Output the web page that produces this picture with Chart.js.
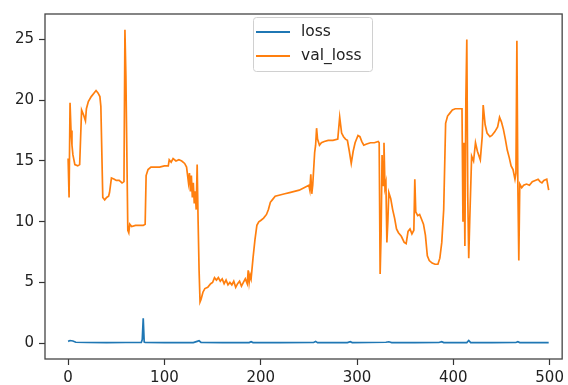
<!DOCTYPE html>
<html><head><meta charset="utf-8">
<script src="https://cdn.jsdelivr.net/npm/chart.js@4.4.0/dist/chart.umd.min.js"></script>
<style>html,body{margin:0;padding:0;background:#fff;}canvas{display:block;}</style>
</head><body>
<canvas id="c" width="568" height="385" style="width:568px;height:385px"></canvas>
<script>
const seriesNames = ['loss', 'val_loss'];
const xTicks = [0, 100, 200, 300, 400, 500];
const yTicks = [0, 5, 10, 15, 20, 25];

const lossEpochs = [0,2,5,8,20,40,60,76,77,78,79,80,100,130,134,136,138,160,188,190,192,220,255,257,259,290,293,295,330,333,336,360,385,388,390,414,416,418,440,465,467,469,499];
const lossValues = [0.15,0.22,0.18,0.08,0.06,0.05,0.06,0.06,0.3,2.05,0.1,0.06,0.05,0.05,0.15,0.2,0.06,0.05,0.05,0.12,0.05,0.05,0.06,0.15,0.05,0.05,0.12,0.05,0.08,0.12,0.05,0.05,0.06,0.12,0.05,0.05,0.22,0.05,0.05,0.06,0.12,0.05,0.05];

const valEpochs = [0,1,2,3,4,5,7,10,12,14,16,18,19,21,24,27,29,31,33,34,36,38,40,42,43,45,48,50,53,56,58,59,60,62,63,64,66,70,74,78,80,81,83,86,90,95,100,104,105,107,109,112,115,118,121,123,125,126,127,128,129,130,131,132,133,134,135,136,137,138,140,142,145,148,150,152,154,156,158,160,162,164,166,168,170,172,174,176,178,180,182,184,186,187,188,189,190,192,194,196,198,200,203,206,208,210,212,215,220,225,230,235,240,245,250,251,252,253,254,256,257,258,259,261,263,266,270,275,280,282,284,286,288,290,292,294,296,298,301,303,305,307,310,314,318,322,323,324,325,326,327,328,329,330,331,332,333,335,337,339,341,343,346,349,351,353,355,357,359,360,361,363,365,367,369,371,373,375,378,381,384,386,388,390,392,394,396,399,402,406,409,410,411,412,413,414,415,416,417,419,421,423,425,428,430,431,433,435,438,440,443,446,448,450,452,454,456,458,460,462,464,465,466,467,468,469,471,473,476,479,482,485,488,490,492,494,497,499];
const valValues = [15.2,12.0,19.8,17.5,16.3,15.5,14.7,14.6,14.7,19.2,18.8,18.3,19.3,19.9,20.3,20.6,20.8,20.6,20.3,19.5,12.0,11.8,12.0,12.1,12.4,13.6,13.5,13.4,13.4,13.2,13.3,25.8,22.0,9.3,9.1,9.8,9.6,9.7,9.7,9.7,9.8,13.8,14.3,14.5,14.5,14.5,14.6,14.6,15.1,14.9,15.2,15.0,15.1,15.0,14.8,14.5,13.2,14.0,12.5,13.8,12.0,13.2,11.5,12.5,11.0,14.7,10.0,6.0,3.4,3.6,4.2,4.5,4.6,4.9,5.0,5.4,5.2,5.4,5.1,5.3,4.9,5.2,4.8,5.0,4.8,5.1,4.6,4.9,5.1,4.7,5.0,5.3,4.9,6.0,5.0,5.6,5.3,7.0,8.5,9.7,10.0,10.1,10.3,10.6,11.0,11.6,11.8,12.1,12.2,12.3,12.4,12.5,12.6,12.8,13.0,12.6,13.9,12.3,13.0,15.7,16.3,17.7,16.8,16.3,16.5,16.6,16.7,16.7,16.8,18.6,17.3,17.0,16.8,16.7,15.8,14.8,15.8,16.5,17.1,17.0,16.6,16.3,16.4,16.5,16.5,16.6,16.5,5.7,9.0,15.5,13.0,16.5,12.8,13.2,8.3,10.0,12.4,11.9,11.0,10.3,9.4,9.1,8.8,8.3,8.2,9.2,9.4,9.0,9.3,13.5,10.8,10.5,10.6,10.2,9.8,8.9,7.2,6.8,6.6,6.5,6.5,7.0,8.3,11.0,18.1,18.7,18.9,19.2,19.3,19.3,19.3,10.0,16.5,8.0,20.0,25.0,12.0,7.0,10.0,15.4,15.0,16.5,15.8,15.1,17.0,19.6,18.0,17.3,17.0,17.1,17.4,17.8,18.6,18.2,17.6,16.8,15.9,15.3,14.6,14.3,13.5,14.0,24.9,13.0,6.8,13.1,12.8,13.0,13.1,13.0,13.3,13.4,13.5,13.3,13.2,13.4,13.5,12.6];

const seriesColors = ['#1f77b4', '#ff7f0e'];
const FONT = 'DejaVu Sans';

function toPoints(xs, ys) { return xs.map((x, i) => ({ x: x, y: ys[i] })); }

const frame = {
  id: 'frame',
  afterDatasetsDraw(chart) {
    const ctx = chart.ctx, a = chart.chartArea;
    ctx.save();
    ctx.strokeStyle = '#444';
    ctx.lineWidth = 1.3;
    ctx.strokeRect(a.left, a.top, a.right - a.left, a.bottom - a.top);
    ctx.restore();
  }
};

const mplLegend = {
  id: 'mplLegend',
  afterDraw(chart) {
    const ctx = chart.ctx;
    const bx = 253.5, by = 17.5, bw = 119, bh = 54;
    ctx.save();
    ctx.beginPath();
    ctx.roundRect(bx, by, bw, bh, 3);
    ctx.fillStyle = 'rgba(255,255,255,0.85)';
    ctx.fill();
    ctx.strokeStyle = '#d0d0d0';
    ctx.lineWidth = 1;
    ctx.stroke();
    const rows = [32, 56];
    seriesNames.forEach((name, i) => {
      ctx.beginPath();
      ctx.moveTo(256, rows[i]);
      ctx.lineTo(290, rows[i]);
      ctx.strokeStyle = seriesColors[i];
      ctx.lineWidth = 2;
      ctx.stroke();
      ctx.fillStyle = '#222';
      ctx.font = '15.5px "' + FONT + '"';
      ctx.textBaseline = 'middle';
      ctx.textAlign = 'left';
      ctx.fillText(name, 301, rows[i]);
    });
    ctx.restore();
  }
};

new Chart(document.getElementById('c'), {
  type: 'line',
  data: {
    datasets: [
      { label: seriesNames[0], data: toPoints(lossEpochs, lossValues), borderColor: seriesColors[0], borderWidth: 1.7, pointRadius: 0, tension: 0, fill: false },
      { label: seriesNames[1], data: toPoints(valEpochs, valValues), borderColor: seriesColors[1], borderWidth: 1.7, pointRadius: 0, tension: 0, fill: false }
    ]
  },
  options: {
    responsive: false,
    animation: false,
    devicePixelRatio: 1,
    layout: { padding: { top: 9, right: 2, left: 0, bottom: 0 } },
    plugins: { legend: { display: false }, tooltip: { enabled: false } },
    scales: {
      x: {
        type: 'linear', min: -24, max: 513,
        afterBuildTicks: s => { s.ticks = xTicks.map(v => ({ value: v })); },
        afterFit: s => { s.height = 26; },
        grid: { drawOnChartArea: false, drawTicks: true, tickLength: 6, tickColor: '#333', tickWidth: 1.2 },
        border: { display: false },
        ticks: { color: '#222', padding: 4, maxRotation: 0, font: { family: FONT, size: 15 } }
      },
      y: {
        type: 'linear', min: -1.3, max: 27.1,
        afterBuildTicks: s => { s.ticks = yTicks.map(v => ({ value: v })); },
        afterFit: s => { s.width = 45; },
        grid: { drawOnChartArea: false, drawTicks: true, tickLength: 6, tickColor: '#333', tickWidth: 1.2 },
        border: { display: false },
        ticks: { color: '#222', padding: 5, font: { family: FONT, size: 15 } }
      }
    }
  },
  plugins: [frame, mplLegend]
});
</script>
</body></html>
